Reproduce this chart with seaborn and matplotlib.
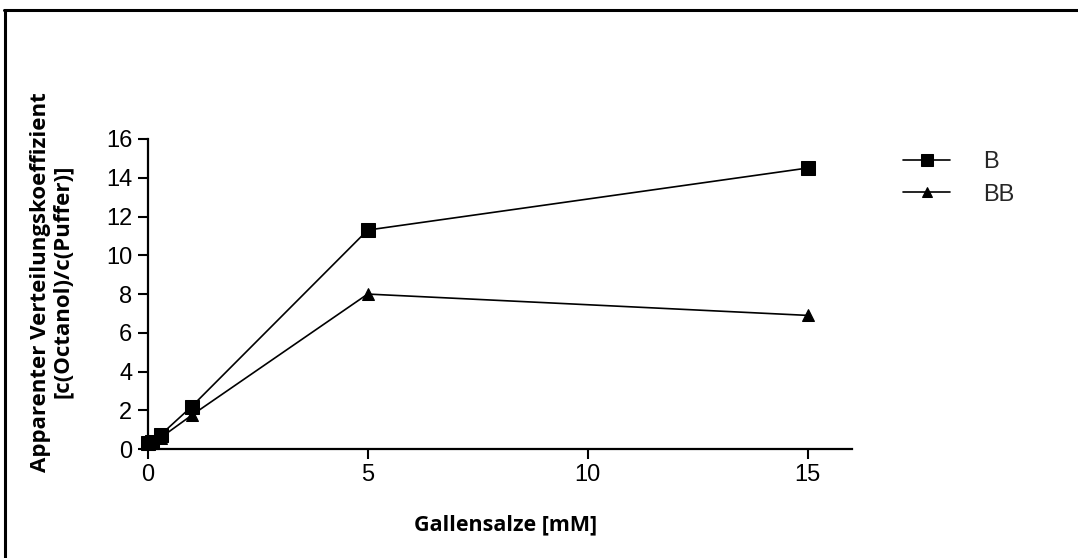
import matplotlib
matplotlib.use("Agg")
import matplotlib.pyplot as plt
from matplotlib.lines import Line2D
import seaborn as sns
import pandas as pd

# Bile salt concentration (mM) and apparent partition coefficients
conc = [0, 0.1, 0.3, 1, 5, 15]
b_vals = [0.3, 0.35, 0.75, 2.2, 11.3, 14.5]
bb_vals = [0.25, 0.3, 0.6, 1.75, 8.0, 6.9]
series = ["B", "BB"]
x_ticks = [0, 5, 10, 15]
y_ticks = [0, 2, 4, 6, 8, 10, 12, 14, 16]

df = pd.DataFrame({
    "conc": conc * 2,
    "value": b_vals + bb_vals,
    "series": [series[0]] * len(conc) + [series[1]] * len(conc),
})

sns.set_theme(style="ticks")
plt.rcParams["font.family"] = ["Liberation Sans", "DejaVu Sans"]

fig = plt.figure(figsize=(10.78, 5.58), dpi=100)
ax = fig.add_axes([0.137, 0.195, 0.653, 0.556])

markers = {"B": "s", "BB": "^"}
sizes = {"B": 9.5, "BB": 9}
for name in series:
    sub = df[df["series"] == name]
    sns.lineplot(data=sub, x="conc", y="value", ax=ax, color="black",
                 marker=markers[name], markersize=sizes[name],
                 markeredgecolor="black", linewidth=1.2, label=name,
                 clip_on=False)

ax.set_xlim(0, 16)
ax.set_ylim(0, 16)
ax.set_xticks(x_ticks)
ax.set_yticks(y_ticks)
ax.tick_params(axis="both", labelsize=17, length=7, width=1.5,
               color="black", labelcolor="black", pad=4)
for s in ["left", "bottom"]:
    ax.spines[s].set_linewidth(1.6)
    ax.spines[s].set_color("black")
for s in ["top", "right"]:
    ax.spines[s].set_visible(False)

label_font = dict(family=["Open Sans", "DejaVu Sans"], fontweight="bold",
                  color="black")
ax.set_xlabel("Gallensalze [mM]", labelpad=20, fontsize=15.5, **label_font)
ax.set_ylabel("Apparenter Verteilungskoeffizient\n[c(Octanol)/c(Puffer)]",
              labelpad=24, linespacing=1.05, fontsize=16, **label_font)
ax.xaxis.label.set_x(0.508)
ax.yaxis.label.set_y(0.54)

leg = ax.legend(loc="upper left", bbox_to_anchor=(1.043, 1.03), frameon=False,
                fontsize=17, handlelength=2.0, handletextpad=1.4,
                labelspacing=0.45, markerscale=0.85)

# Outer frame edges (top and left)
fig.add_artist(Line2D([0.004, 1.0], [0.982, 0.982], transform=fig.transFigure,
                      color="black", linewidth=2.2))
fig.add_artist(Line2D([0.005, 0.005], [0.0, 0.982], transform=fig.transFigure,
                      color="black", linewidth=2.2))

fig.savefig("out.png", dpi=100, facecolor="white")
